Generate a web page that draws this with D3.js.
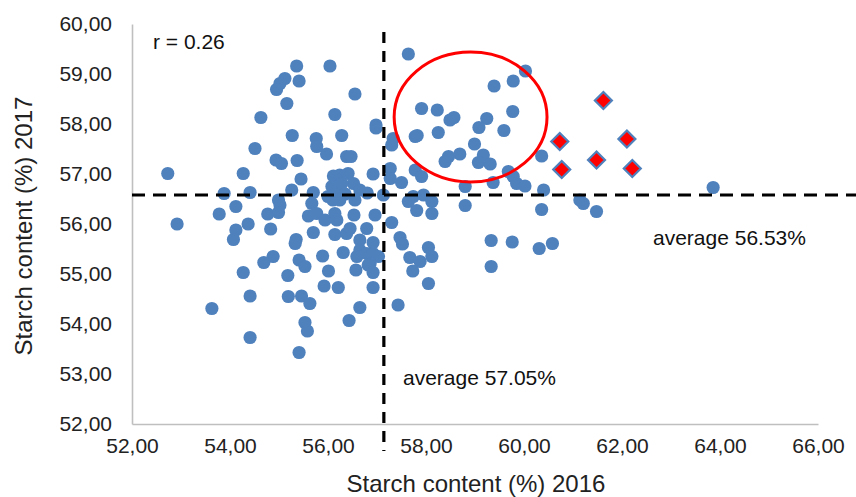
<!DOCTYPE html>
<html><head><meta charset="utf-8">
<script src="https://cdn.jsdelivr.net/npm/d3@7"></script>
<style>
html,body{margin:0;padding:0;background:#fff;}
svg{display:block;font-family:"Liberation Sans",Arial,sans-serif;}
</style></head>
<body><svg id="c" width="856" height="497"></svg>
<script>
// Starch content 2016 (x) and 2017 (y), blue points
const starch2016 = [52.73,55.36,56.04,55.12,55.02,54.95,55.41,56.55,55.16,56.14,54.63,56.98,56.98,55.27,56.28,55.76,55.77,55.97,54.51,56.38,56.47,54.94,55.05,55.37,54.27,56.92,55.45,56.11,56.24,56.41,56.52,56.65,56.08,56.18,56.28,55.26,54.41,53.88,55.70,57.13,56.00,56.35,56.80,
57.64,59.39,59.78,60.03,57.91,58.23,59.77,58.49,58.57,59.24,59.08,59.59,57.78,57.82,58.25,57.33,57.30,58.99,58.69,58.46,58.39,59.17,59.07,59.31,60.36,57.27,57.27,57.78,57.91,57.50,58.80,59.37,59.68,59.78,59.85,60.02,60.40,61.14,61.21,61.48,58.80,60.36,57.74,57.95,58.12,57.81,58.12,
57.30,57.47,57.52,57.67,57.88,58.05,58.12,57.73,58.05,57.43,59.33,59.76,60.31,60.58,59.33,63.86,57.64,
52.92,53.78,54.12,54.37,54.12,54.07,54.77,54.99,55.02,54.99,54.83,55.60,55.67,55.77,55.94,56.14,56.18,56.10,56.24,56.55,56.53,56.96,55.70,56.14,56.38,56.45,56.79,55.35,55.33,56.65,56.92,56.65,56.59,56.79,56.92,57.03,56.86,56.31,55.89,54.88,54.69,55.41,55.53,56.01,54.27,55.18,56.57,56.82,56.92,55.92,56.21,56.92,54.41,55.19,55.46,55.63,53.63,56.65,56.43,55.53,55.58,54.41,55.41];
const starch2017 = [57.01,59.16,59.16,58.91,58.81,58.69,58.86,58.60,58.41,58.19,58.13,57.98,57.92,57.77,57.77,57.71,57.55,57.40,57.51,57.35,57.35,57.28,57.21,57.27,57.01,57.00,56.90,56.96,56.98,57.01,56.81,56.68,56.75,56.65,56.81,56.68,56.63,56.61,56.63,56.58,56.55,56.60,56.62,
59.40,58.76,58.86,59.06,58.31,58.28,58.25,58.08,58.13,58.11,57.93,57.87,57.75,57.77,57.83,57.71,57.58,57.60,57.40,57.35,57.25,57.38,57.23,57.20,57.36,57.11,56.91,57.08,56.95,56.83,56.75,56.83,57.05,56.95,56.81,56.76,56.68,56.48,56.41,56.25,56.37,56.29,56.55,56.58,56.45,56.27,56.21,
56.03,55.73,55.60,55.33,55.25,55.53,55.35,55.06,54.81,54.38,55.67,55.64,55.51,55.61,55.15,56.73,56.45,
56.00,56.20,56.35,56.00,55.88,55.69,56.20,56.23,56.38,56.48,55.90,56.16,56.41,56.21,56.08,56.21,56.08,56.48,56.48,56.48,56.18,56.18,55.83,55.79,55.81,55.91,55.91,55.69,55.61,55.68,55.63,55.48,55.35,55.41,55.41,55.35,55.21,55.43,55.36,55.35,55.23,55.28,55.15,55.06,55.03,54.97,55.08,55.18,55.03,54.76,54.73,54.73,54.56,54.55,54.56,54.41,54.31,54.33,54.07,54.03,53.86,53.73,53.43];
// highlighted (red diamond) points
const hi2016 = [61.62,60.73,62.10,61.48,60.77,62.21];
const hi2017 = [58.47,57.65,57.70,57.28,57.09,57.11];
const xTicks = [52,54,56,58,60,62,64,66];
const yTicks = [52,53,54,55,56,57,58,59,60];
const avgLineX = 57.14, avgLineY = 56.58;
const avgXLabel = "average 57.05%", avgYLabel = "average 56.53%";
const rLabel = "r = 0.26";
const ellipseC = [58.91, 58.14], ellipseR = [1.56, 1.30];

const svg = d3.select("#c");
const x = d3.scaleLinear().domain([52,66]).range([132,818]);
const y = d3.scaleLinear().domain([52,60]).range([424,24]);
const loc = d3.formatLocale({decimal:",",thousands:".",grouping:[3],currency:["",""]});
const fmt = loc.format(".2f");
const grey = "#bfbfbf", blue = "#4f81bd";

// axes
const xa = svg.append("g").attr("transform","translate(0,424)")
  .call(d3.axisBottom(x).tickValues(xTicks).tickFormat(fmt).tickSize(0).tickPadding(14));
const ya = svg.append("g").attr("transform","translate(132,0)")
  .call(d3.axisLeft(y).tickValues(yTicks).tickFormat(fmt).tickSize(0).tickPadding(20));
[xa,ya].forEach(g=>{
  g.select(".domain").attr("stroke",grey).attr("stroke-width",1.6);
  g.selectAll("text").attr("font-size",21).attr("fill","#222").attr("font-family","Liberation Sans, Arial, sans-serif");
});
xa.selectAll("text").attr("dy","0.71em");

// titles
svg.append("text").attr("x",476).attr("y",492).attr("text-anchor","middle")
  .attr("font-size",24).attr("fill","#222").text("Starch content (%) 2016");
svg.append("text").attr("transform","translate(32,226) rotate(-90)").attr("text-anchor","middle")
  .attr("font-size",24).attr("fill","#222").text("Starch content (%) 2017");

// points
const pts = starch2016.map((v,i)=>[v,starch2017[i]]);
svg.append("g").selectAll("circle").data(pts).join("circle")
  .attr("cx",d=>x(d[0])).attr("cy",d=>y(d[1])).attr("r",6.6).attr("fill",blue);

const hp = hi2016.map((v,i)=>[v,hi2017[i]]);
svg.append("g").selectAll("path").data(hp).join("path")
  .attr("transform",d=>`translate(${x(d[0])},${y(d[1])})`)
  .attr("d","M0,-8.5L8.5,0L0,8.5L-8.5,0Z").attr("fill","#ff0000").attr("stroke",blue).attr("stroke-width",2.2);

// average lines
svg.append("line").attr("x1",132).attr("x2",856).attr("y1",y(avgLineY)).attr("y2",y(avgLineY))
  .attr("stroke","#000").attr("stroke-width",3.2).attr("stroke-dasharray","13,8");
svg.append("line").attr("x1",x(avgLineX)).attr("x2",x(avgLineX)).attr("y1",32).attr("y2",451)
  .attr("stroke","#000").attr("stroke-width",3.2).attr("stroke-dasharray","11,8");

// ellipse
svg.append("ellipse").attr("cx",x(ellipseC[0])).attr("cy",y(ellipseC[1]))
  .attr("rx",x(52+ellipseR[0])-x(52)).attr("ry",y(52)-y(52+ellipseR[1]))
  .attr("fill","none").attr("stroke","#ff0000").attr("stroke-width",3);

// annotations
svg.append("text").attr("x",153).attr("y",49).attr("font-size",21).attr("fill","#111").text(rLabel);
svg.append("text").attr("x",653).attr("y",245).attr("font-size",21).attr("fill","#111").text(avgYLabel);
svg.append("text").attr("x",403).attr("y",385).attr("font-size",21).attr("fill","#111").text(avgXLabel);
</script></body></html>
